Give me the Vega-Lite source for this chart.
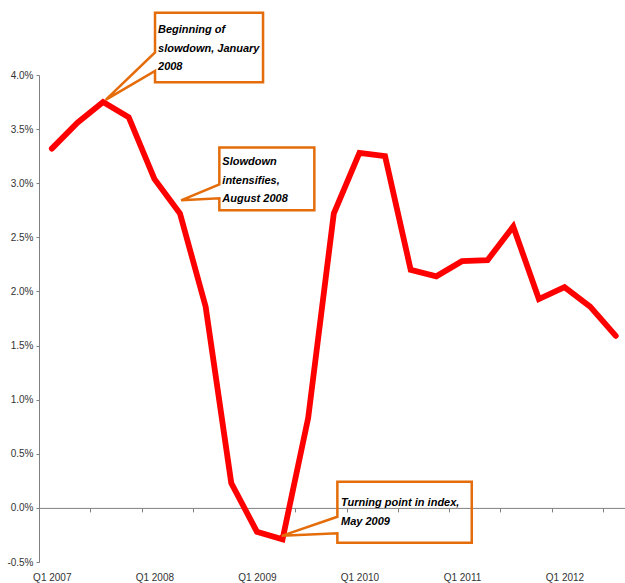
{
  "$schema": "https://vega.github.io/schema/vega-lite/v6.json",
  "width": 586,
  "height": 487,
  "autosize": {"type": "none"},
  "padding": {"left": 39, "top": 75, "right": 0, "bottom": 21},
  "background": "white",
  "config": {"view": {"stroke": null}},
  "datasets": {
    "series": [
      {"x": 0, "y": 3.32, "q": "Q1 2007"},
      {"x": 1, "y": 3.56, "q": "Q2 2007"},
      {"x": 2, "y": 3.75, "q": "Q3 2007"},
      {"x": 3, "y": 3.61, "q": "Q4 2007"},
      {"x": 4, "y": 3.04, "q": "Q1 2008"},
      {"x": 5, "y": 2.72, "q": "Q2 2008"},
      {"x": 6, "y": 1.86, "q": "Q3 2008"},
      {"x": 7, "y": 0.23, "q": "Q4 2008"},
      {"x": 8, "y": -0.22, "q": "Q1 2009"},
      {"x": 9, "y": -0.29, "q": "Q2 2009"},
      {"x": 10, "y": 0.83, "q": "Q3 2009"},
      {"x": 11, "y": 2.72, "q": "Q4 2009"},
      {"x": 12, "y": 3.28, "q": "Q1 2010"},
      {"x": 13, "y": 3.25, "q": "Q2 2010"},
      {"x": 14, "y": 2.2, "q": "Q3 2010"},
      {"x": 15, "y": 2.14, "q": "Q4 2010"},
      {"x": 16, "y": 2.28, "q": "Q1 2011"},
      {"x": 17, "y": 2.29, "q": "Q2 2011"},
      {"x": 18, "y": 2.6, "q": "Q3 2011"},
      {"x": 19, "y": 1.93, "q": "Q4 2011"},
      {"x": 20, "y": 2.04, "q": "Q1 2012"},
      {"x": 21, "y": 1.86, "q": "Q2 2012"},
      {"x": 22, "y": 1.59, "q": "Q3 2012"}
    ],
    "callouts": [
      {"id": "a", "o": 0, "x": 2.1, "y": 3.77},
      {"id": "a", "o": 1, "x": 4.026, "y": 4.209},
      {"id": "a", "o": 2, "x": 4.026, "y": 4.575},
      {"id": "a", "o": 3, "x": 8.24, "y": 4.575},
      {"id": "a", "o": 4, "x": 8.24, "y": 3.934},
      {"id": "a", "o": 5, "x": 4.026, "y": 3.934},
      {"id": "a", "o": 6, "x": 4.026, "y": 4.037},
      {"id": "a", "o": 7, "x": 2.1, "y": 3.77},
      {"id": "b", "o": 0, "x": 5.04, "y": 2.842},
      {"id": "b", "o": 1, "x": 6.535, "y": 2.99},
      {"id": "b", "o": 2, "x": 6.535, "y": 3.329},
      {"id": "b", "o": 3, "x": 10.241, "y": 3.329},
      {"id": "b", "o": 4, "x": 10.241, "y": 2.75},
      {"id": "b", "o": 5, "x": 6.535, "y": 2.75},
      {"id": "b", "o": 6, "x": 6.535, "y": 2.861},
      {"id": "b", "o": 7, "x": 5.04, "y": 2.842},
      {"id": "c", "o": 0, "x": 8.969, "y": -0.258},
      {"id": "c", "o": 1, "x": 11.139, "y": -0.082},
      {"id": "c", "o": 2, "x": 11.139, "y": 0.241},
      {"id": "c", "o": 3, "x": 16.382, "y": 0.241},
      {"id": "c", "o": 4, "x": 16.382, "y": -0.322},
      {"id": "c", "o": 5, "x": 11.139, "y": -0.322},
      {"id": "c", "o": 6, "x": 11.139, "y": -0.235},
      {"id": "c", "o": 7, "x": 8.969, "y": -0.258}
    ],
    "notes": [
      {"x": 4.143, "y": 4.412, "t": "Beginning of|slowdown, January|2008"},
      {"x": 6.652, "y": 3.196, "t": "Slowdown|intensifies,|August 2008"},
      {"x": 11.283, "y": 0.042, "t": "Turning point in index,|May 2009"}
    ]
  },
  "layer": [
    {
      "data": {"name": "series"},
      "mark": {"type": "line", "color": "#FF0000", "strokeWidth": 5.8, "strokeJoin": "miter", "strokeCap": "round"},
      "encoding": {
        "x": {
          "field": "x", "type": "quantitative",
          "scale": {"domain": [-0.5, 22.36], "nice": false, "zero": false},
          "axis": {
            "title": null,
            "values": [-0.5, 0.5, 1.5, 2.5, 3.5, 4.5, 5.5, 6.5, 7.5, 8.5, 9.5, 10.5, 11.5, 12.5, 13.5, 14.5, 15.5, 16.5, 17.5, 18.5, 19.5, 20.5, 21.5],
            "labelExpr": "(datum.value + 0.5) % 4 == 0 ? 'Q1 ' + (2007 + (datum.value + 0.5) / 4) : ''",
            "labelOffset": 12.8,
            "offset": -54.1,
            "grid": false,
            "domainColor": "#808080",
            "tickColor": "#808080",
            "tickSize": 4,
            "labelPadding": 61,
            "labelFont": "Liberation Sans, Arial, sans-serif",
            "labelFontSize": 10,
            "labelColor": "#333333",
            "labelOverlap": false,
            "labelBound": false,
            "labelFlush": false
          }
        },
        "y": {
          "field": "y", "type": "quantitative",
          "scale": {"domain": [-0.5, 4.0], "nice": false, "zero": false},
          "axis": {
            "title": null,
            "values": [-0.5, 0, 0.5, 1, 1.5, 2, 2.5, 3, 3.5, 4],
            "labelExpr": "datum.value < 0 ? '-' + format(abs(datum.value), '.1f') + '%' : format(datum.value, '.1f') + '%'",
            "grid": false,
            "domainColor": "#808080",
            "tickColor": "#808080",
            "tickSize": 3,
            "labelPadding": 3,
            "labelFont": "Liberation Sans, Arial, sans-serif",
            "labelFontSize": 10,
            "labelColor": "#333333"
          }
        }
      }
    },
    {
      "data": {"name": "callouts"},
      "mark": {"type": "line", "color": "#E46C0A", "strokeWidth": 2.5, "strokeJoin": "miter", "clip": false},
      "encoding": {
        "x": {"field": "x", "type": "quantitative"},
        "y": {"field": "y", "type": "quantitative"},
        "detail": {"field": "id"},
        "order": {"field": "o", "type": "quantitative"}
      }
    },
    {
      "data": {"name": "notes"},
      "mark": {"type": "text", "align": "left", "baseline": "middle", "lineBreak": "|", "lineHeight": 18.5, "font": "Liberation Sans, Arial, sans-serif", "fontSize": 11, "fontWeight": "bold", "fontStyle": "italic", "color": "#000000"},
      "encoding": {
        "x": {"field": "x", "type": "quantitative"},
        "y": {"field": "y", "type": "quantitative"},
        "text": {"field": "t"}
      }
    }
  ]
}
